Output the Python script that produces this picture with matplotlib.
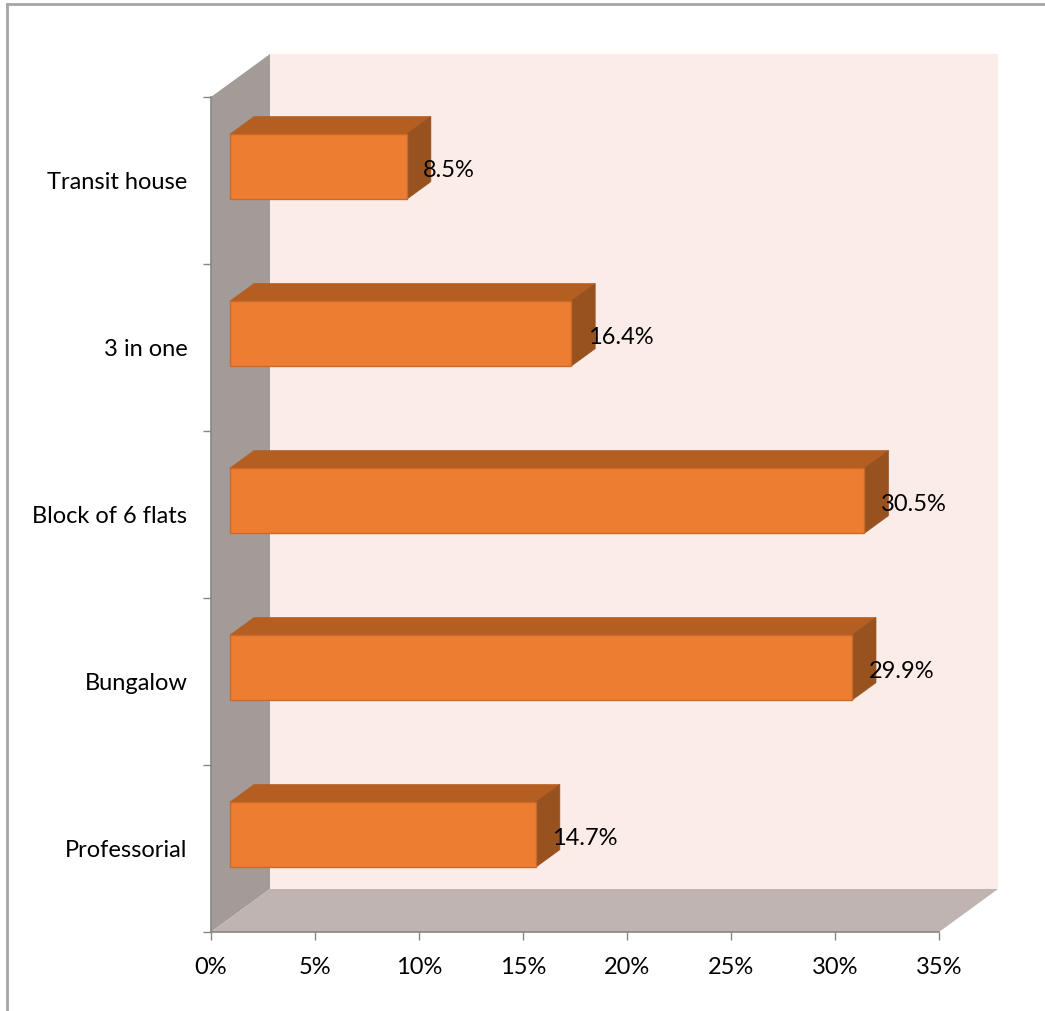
import matplotlib
matplotlib.use("Agg")
import matplotlib.pyplot as plt
from matplotlib.patches import Polygon, Rectangle
from matplotlib.lines import Line2D

categories = ["Professorial", "Bungalow", "Block of 6 flats", "3 in one", "Transit house"]
shares = [14.7, 29.9, 30.5, 16.4, 8.5]
xticks = [0, 5, 10, 15, 20, 25, 30, 35]

plt.rcParams['font.family'] = ['Lato', 'DejaVu Sans']

fig = plt.figure(figsize=(10.45, 10.11), dpi=100)
ax = fig.add_axes([211 / 1045, 79 / 1011, 728 / 1045, 835 / 1011])
ax.set_xlim(0, 35)
ax.set_ylim(-0.5, 4.5)
ax.patch.set_visible(False)

# depth of the 3d box in data units (59 px right, 43 px up)
DX = 59 * 35 / 728
DY = 43 * 5 / 835
D0, D1 = 0.32, 0.73   # front/back depth of the bars
H = 0.39              # bar thickness

# back wall, side wall and floor
ax.add_patch(Rectangle((DX, -0.5 + DY), 35, 5, facecolor="#fcece7",
                       edgecolor="none", clip_on=False, zorder=0))
ax.add_patch(Polygon([(0, -0.5), (DX, -0.5 + DY), (DX, 4.5 + DY), (0, 4.5)],
                     facecolor="#a39b97", edgecolor="none", clip_on=False, zorder=1))
ax.add_patch(Polygon([(0, -0.5), (35, -0.5), (35 + DX, -0.5 + DY), (DX, -0.5 + DY)],
                     facecolor="#bfb4b1", edgecolor="none", clip_on=False, zorder=1))

for i, v in enumerate(shares):
    x0 = D0 * DX
    y0 = i - H / 2 + D0 * DY
    ox = (D1 - D0) * DX
    oy = (D1 - D0) * DY
    # top face
    ax.add_patch(Polygon([(x0, y0 + H), (x0 + v, y0 + H), (x0 + v + ox, y0 + H + oy),
                          (x0 + ox, y0 + H + oy)],
                         facecolor="#b45e22", edgecolor="#b45e22", lw=0.5, zorder=3))
    # right face
    ax.add_patch(Polygon([(x0 + v, y0), (x0 + v + ox, y0 + oy), (x0 + v + ox, y0 + H + oy),
                          (x0 + v, y0 + H)],
                         facecolor="#97521f", edgecolor="#97521f", lw=0.5, zorder=3))
    # front face
    ax.add_patch(Rectangle((x0, y0), v, H, facecolor="#ed7d31", edgecolor="#c9692a",
                           lw=1.0, zorder=4))
    ax.text(x0 + v + 0.8, i + D0 * DY - 0.02, f"{v}%", ha="left", va="center",
            fontsize=17, color="black", zorder=5)

ax.set_xticks(xticks)
ax.set_xticklabels([f"{t}%" for t in xticks], fontsize=17)
ax.set_yticks(range(len(categories)))
ax.set_yticklabels(categories, fontsize=17)
ax.set_yticks([k - 0.5 for k in range(len(categories) + 1)], minor=True)
ax.tick_params(axis="y", which="major", length=0, pad=17)
ax.tick_params(axis="y", which="minor", length=6, color="#868686", width=1)
ax.tick_params(axis="x", length=6, color="#868686", width=1, pad=12)

for s in ("top", "right"):
    ax.spines[s].set_visible(False)
for s in ("left", "bottom"):
    ax.spines[s].set_color("#868686")
    ax.spines[s].set_linewidth(1.2)
    ax.spines[s].set_zorder(6)

# outer chart frame
fig.add_artist(Line2D([7 / 1045, 7 / 1045], [0, 1 - 4 / 1011], color="#a6a6a6", lw=2))
fig.add_artist(Line2D([7 / 1045, 1], [1 - 4 / 1011, 1 - 4 / 1011], color="#a6a6a6", lw=2))

fig.savefig("out.png", dpi=100)
